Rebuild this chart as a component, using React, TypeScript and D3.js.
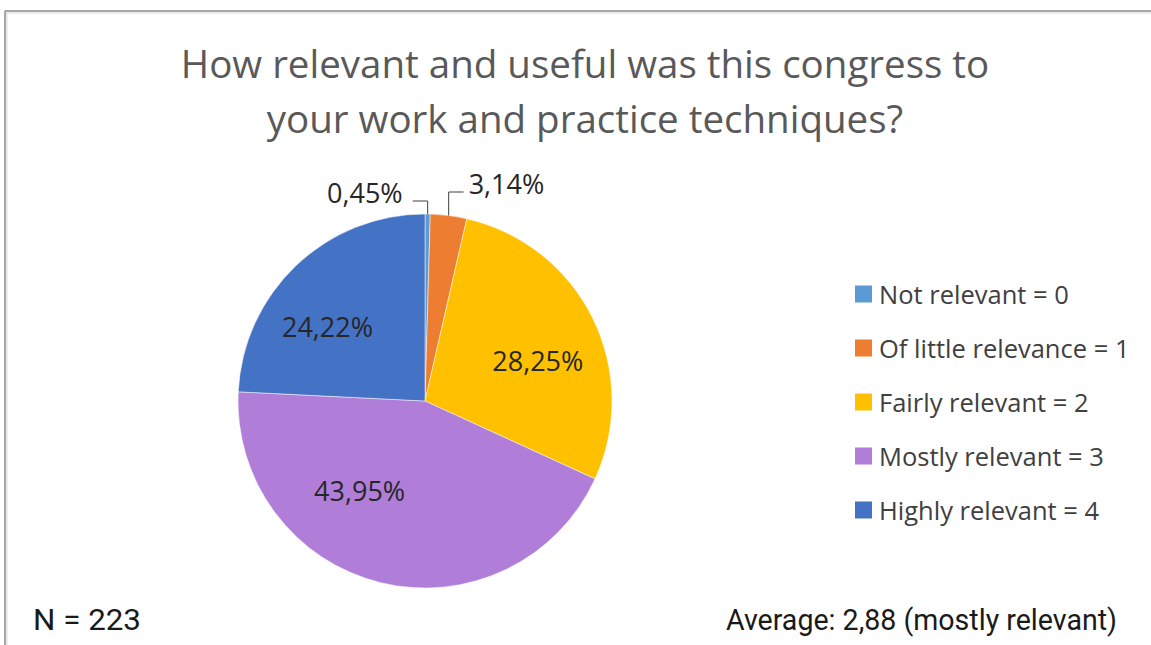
import React from "react";
import * as d3 from "d3";

const categories = [
  "Not relevant = 0",
  "Of little relevance = 1",
  "Fairly relevant = 2",
  "Mostly relevant = 3",
  "Highly relevant = 4",
];
const values = [0.45, 3.14, 28.25, 43.95, 24.22];
const colors = ["#5B9BD5", "#ED7D31", "#FFC000", "#B07ED8", "#4472C4"];
const titleLines = [
  "How relevant and useful was this congress to",
  "your work and practice techniques?",
];
const footerLeft = "N = 223";
const footerRight = "Average: 2,88 (mostly relevant)";

const fmt = (v: number) => v.toFixed(2).replace(".", ",") + "%";

export default function App() {
  const W = 1151;
  const H = 645;
  const cx = 425;
  const cy = 401;
  const R = 187;

  const pie = d3
    .pie<number>()
    .sort(null)
    .value((d) => d)
    .startAngle(0)
    .endAngle(2 * Math.PI);
  const arcs = pie(values);
  const arc = d3.arc<d3.PieArcDatum<number>>().innerRadius(0).outerRadius(R);
  const labelArc = d3
    .arc<d3.PieArcDatum<number>>()
    .innerRadius(R * 0.64)
    .outerRadius(R * 0.64);

  // label nudges relative to centroid (inside labels)
  const nudges: Record<number, [number, number]> = {
    2: [5.5, 12],
    3: [-37, -27],
    4: [-15, 12],
  };

  const legendY = d3
    .scalePoint<string>()
    .domain(categories)
    .range([294, 510]);

  const font = "'Open Sans', 'DejaVu Sans', sans-serif";
  const footFont = "'Roboto', 'Liberation Sans Narrow', sans-serif";

  return (
    <svg
      width={W}
      height={H}
      style={{ position: "absolute", left: 0, top: 0, background: "#fff" }}
    >
      <rect x={0} y={0} width={W} height={H} fill="#fff" />
      {/* frame */}
      <line x1={5} y1={11} x2={W} y2={11} stroke="#A6A6A6" strokeWidth={2} />
      <line x1={5} y1={11} x2={5} y2={H} stroke="#A6A6A6" strokeWidth={2} />
      <line x1={6} y1={13} x2={W} y2={13} stroke="#D9D9D9" strokeWidth={1} />
      <line x1={7} y1={13} x2={7} y2={H} stroke="#D9D9D9" strokeWidth={1} />

      {/* title */}
      {titleLines.map((t, i) => (
        <text
          key={i}
          x={585}
          y={78 + i * 55}
          textAnchor="middle"
          fontFamily={font}
          fontSize={38.5}
          fill="#595959"
        >
          {t}
        </text>
      ))}

      {/* pie */}
      <g transform={`translate(${cx},${cy})`}>
        {arcs.map((a, i) => (
          <path key={i} d={arc(a) || ""} fill={colors[i]} stroke="#fff" strokeWidth={0.5} />
        ))}
        {arcs.map((a, i) => {
          if (i < 2) return null;
          const [x, y] = labelArc.centroid(a);
          const [nx, ny] = nudges[i] || [0, 0];
          return (
            <text
              key={"l" + i}
              x={x + nx}
              y={y + ny}
              textAnchor="middle"
              dominantBaseline="central"
              fontFamily={font}
              fontSize={27}
              fill="#262626"
            >
              {fmt(values[i])}
            </text>
          );
        })}
        {/* outside labels with leader lines */}
        {arcs.slice(0, 2).map((a, i) => {
          const mid = (a.startAngle + a.endAngle) / 2;
          const px = Math.sin(mid) * R;
          const py = -Math.cos(mid) * R;
          const elbowY = i === 0 ? -200 : -209;
          const hx = i === 0 ? px - 15 : px + 15;
          return (
            <g key={"o" + i}>
              <polyline
                points={`${px},${py} ${px},${elbowY} ${hx},${elbowY}`}
                fill="none"
                stroke="#404040"
                strokeWidth={1}
              />
              <text
                x={i === 0 ? hx - 10 : hx + 5}
                y={elbowY - 9}
                textAnchor={i === 0 ? "end" : "start"}
                dominantBaseline="central"
                fontFamily={font}
                fontSize={27}
                fill="#262626"
              >
                {fmt(values[i])}
              </text>
            </g>
          );
        })}
      </g>

      {/* legend */}
      {categories.map((c, i) => {
        const y = legendY(c) as number;
        return (
          <g key={c}>
            <rect x={855} y={y - 8.5} width={17} height={17} fill={colors[i]} />
            <text
              x={879}
              y={y}
              dominantBaseline="central"
              fontFamily={font}
              fontSize={25.5}
              fill="#404040"
            >
              {c}
            </text>
          </g>
        );
      })}

      {/* footer */}
      <text
        x={33}
        y={630}
        fontFamily={footFont}
        fontSize={30}
        fill="#1a1a1a"
        textLength={108}
        lengthAdjust="spacingAndGlyphs"
      >
        {footerLeft}
      </text>
      <text
        x={726}
        y={630}
        fontFamily={footFont}
        fontSize={30}
        fill="#1a1a1a"
        textLength={391}
        lengthAdjust="spacingAndGlyphs"
      >
        {footerRight}
      </text>
    </svg>
  );
}
